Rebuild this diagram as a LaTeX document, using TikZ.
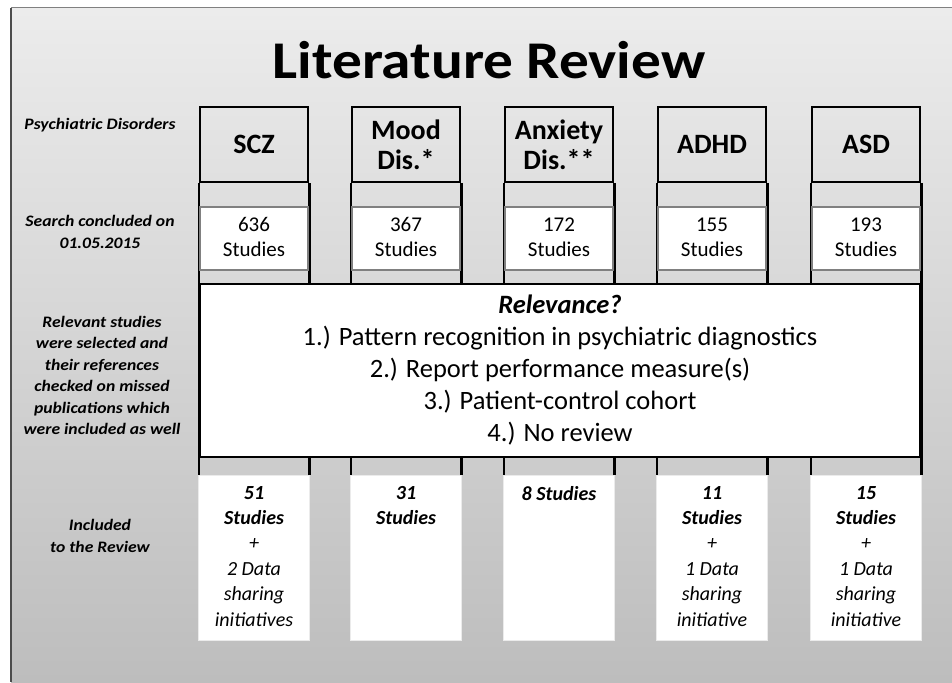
\documentclass[tikz,border=0pt]{standalone}
\usepackage{fontspec}
\setmainfont{Carlito}
\newfontfamily\titlefont[FakeStretch=1.12]{Carlito}
\newfontfamily\rowfont[FakeStretch=1.1]{Carlito}
\usetikzlibrary{positioning}
\definecolor{bgtop}{HTML}{ECECEC}
\definecolor{bgbot}{HTML}{BDBDBD}
\definecolor{cntline}{HTML}{808080}
\tikzset{
    disorder/.style={
        draw,
        line width=2.5pt,
        minimum width=108pt,
        minimum height=75pt,
        align=center,
        inner sep=0pt,
        font=\bfseries\fontsize{28}{30}\selectfont},
    countbox/.style={
        draw=cntline,
        line width=2pt,
        fill=white,
        minimum width=108pt,
        minimum height=63pt,
        align=center,
        inner sep=0pt,
        font=\fontsize{21}{25}\selectfont},
    resultbox/.style={
        draw=black!8,
        fill=white,
        minimum width=111pt,
        minimum height=165pt},
    resulttext/.style={
        anchor=north,
        align=center,
        inner sep=0pt,
        font=\fontsize{20}{25.4}\selectfont\itshape},
    rowlabel/.style={
        align=center,
        inner sep=0pt,
        font=\rowfont\fontsize{16}{21.4}\selectfont\bfseries\itshape},
    colline/.style={
        line width=2.5pt}}

\begin{document}
\begin{tikzpicture}[x=1pt,y=-1pt]
        \useasboundingbox (0,0) rectangle (952,682);
        \fill[white] (0,0) rectangle (952,682);
        \shade[top color=bgtop,bottom color=bgbot] (11,8) rectangle (952,682);
        \draw[gray,line width=1pt] (11,8) -- (952,8);
        \draw[black!70,line width=2pt] (11,8) -- (11,682);

        \node[font=\titlefont\bfseries\fontsize{53}{60}\selectfont] (title) at (489,60) {Literature Review};

        % row labels
        \node[rowlabel] (lpsy) at (100,125) {Psychiatric Disorders};
        \node[rowlabel] (lsearch) at (100,232) {Search concluded on\\01.05.2015};
        \node[rowlabel] (lrel) at (102,375.5) {Relevant studies\\were selected and\\their references\\checked on missed\\publications which\\were included as well};
        \node[rowlabel] (lincl) at (100,536) {Included\\to the Review};

        % disorders
        \node[disorder] (d1) at (254,144.5) {SCZ};
        \node[disorder] (d2) at (406,144.5) {Mood\\Dis.*};
        \node[disorder] (d3) at (559,144.5) {Anxiety\\Dis.**};
        \node[disorder] (d4) at (712,144.5) {ADHD};
        \node[disorder] (d5) at (866,144.5) {ASD};

        \node[resultbox] (r1) at (254,557.5) {};
        \node[resultbox] (r2) at (406,557.5) {};
        \node[resultbox] (r3) at (559,557.5) {};
        \node[resultbox] (r4) at (712,557.5) {};
        \node[resultbox] (r5) at (866,557.5) {};

        \foreach \i in {1,...,5} {
            \draw[colline] (d\i.south west) -- (d\i.south west |- r\i.north);
            \draw[colline] (d\i.south east) -- (d\i.south east |- r\i.north);
        }

        % search results
        \node[countbox] (c1) at (254,238.5) {\strut 636\\\strut Studies};
        \node[countbox] (c2) at (406,238.5) {\strut 367\\\strut Studies};
        \node[countbox] (c3) at (559,238.5) {\strut 172\\\strut Studies};
        \node[countbox] (c4) at (712,238.5) {\strut 155\\\strut Studies};
        \node[countbox] (c5) at (866,238.5) {\strut 193\\\strut Studies};

        \node[draw,line width=2.5pt,fill=white,minimum width=720pt,minimum height=173pt,
            align=center,font=\fontsize{26.5}{32}\selectfont] (rel) at (560,370.5)
            {\textbf{\textit{Relevance?}}\\
             1.) Pattern recognition in psychiatric diagnostics\\
             2.) Report performance measure(s)\\
             3.) Patient-control cohort\\
             4.) No review};

        % included
        \node[resulttext] (t1) at (254,486) {\textbf{51}\\\textbf{Studies}\\+\\2 Data\\sharing\\initiatives};
        \node[resulttext] (t2) at (406,486) {\textbf{31}\\\textbf{Studies}};
        \node[resulttext] (t3) at (559,486) {\textbf{8 Studies}};
        \node[resulttext] (t4) at (712,486) {\textbf{11}\\\textbf{Studies}\\+\\1 Data\\sharing\\initiative};
        \node[resulttext] (t5) at (866,486) {\textbf{15}\\\textbf{Studies}\\+\\1 Data\\sharing\\initiative};
\end{tikzpicture}
\end{document}
